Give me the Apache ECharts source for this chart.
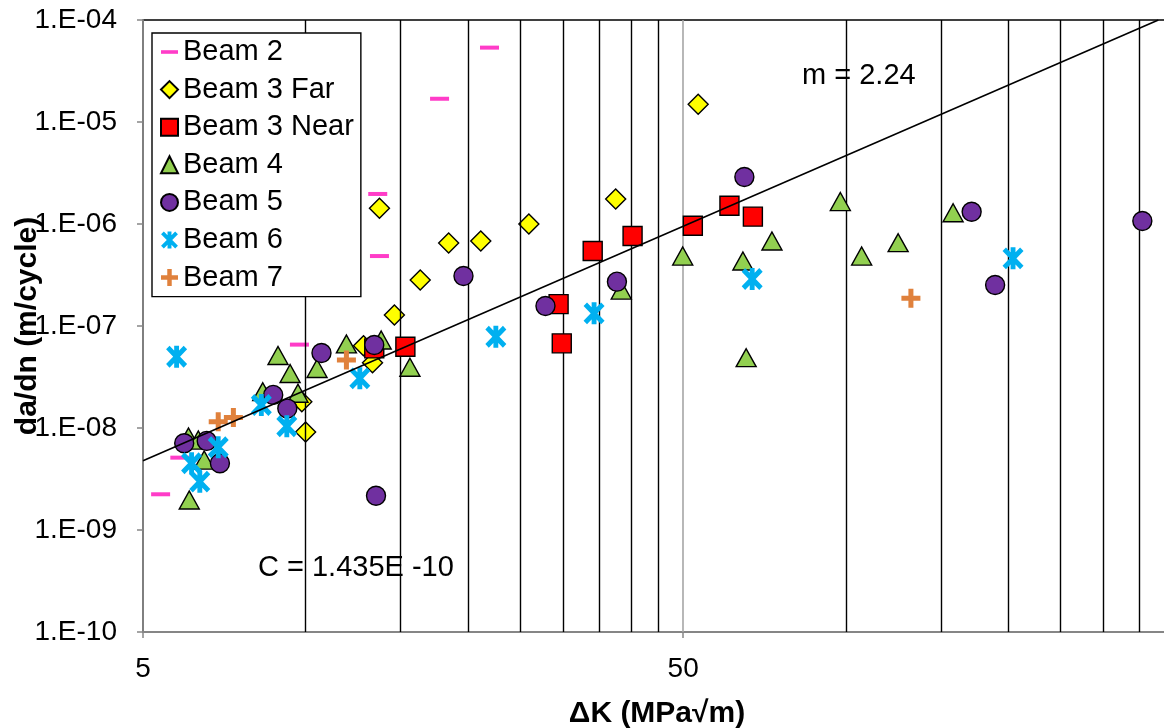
<!DOCTYPE html>
<html><head><meta charset="utf-8">
<script src="https://cdn.jsdelivr.net/npm/echarts@6/dist/echarts.min.js"></script>
<style>html,body{margin:0;padding:0;background:#fff}#c{width:1164px;height:728px}</style>
</head><body><div id="c"></div>
<script>
// ---- data (ΔK [MPa√m], da/dN [m/cycle]) ----
const seriesNames = ['Beam 2','Beam 3 Far','Beam 3 Near','Beam 4','Beam 5','Beam 6','Beam 7'];
const beam2 = [[5.39,2.24e-9],[5.85,5.12e-9],[9.74,6.57e-8],[13.7,4.85e-7],[13.6,1.97e-6],[17.7,1.69e-5],[21.9,5.36e-5]];
const beam3Far = [[9.84,1.81e-8],[10.0,9.14e-9],[12.8,6.41e-8],[13.3,4.37e-8],[14.6,1.28e-7],[13.7,1.43e-6],[16.3,2.82e-7],[18.4,6.52e-7],[21.1,6.81e-7],[25.9,1.0e-6],[37.5,1.76e-6],[53.3,1.49e-5]];
const beam3Near = [[13.4,6.04e-8],[15.3,6.26e-8],[29.4,1.64e-7],[29.8,6.76e-8],[34.0,5.43e-7],[40.3,7.62e-7],[52.1,9.62e-7],[60.9,1.51e-6],[67.3,1.18e-6]];
const beam4 = [[6.09,1.97e-9],[6.07,8.17e-9],[6.33,7.62e-9],[6.49,4.85e-9],[8.33,2.27e-8],[8.89,5.14e-8],[9.36,3.42e-8],[9.68,2.19e-8],[10.5,3.83e-8],[11.9,6.67e-8],[13.8,7.29e-8],[15.6,3.94e-8],[38.4,2.25e-7],[49.9,4.85e-7],[64.5,4.34e-7],[65.4,4.89e-8],[73.0,6.81e-7],[97.7,1.66e-6],[107,4.85e-7],[125,6.56e-7],[158,1.29e-6]];
const beam5 = [[5.96,7.08e-9],[6.56,7.47e-9],[6.94,4.51e-9],[8.71,2.11e-8],[9.25,1.55e-8],[10.7,5.43e-8],[13.4,6.52e-8],[13.5,2.17e-9],[19.6,3.09e-7],[27.8,1.57e-7],[37.7,2.72e-7],[64.9,2.89e-6],[171,1.32e-6],[189,2.52e-7],[354,1.07e-6]];
const beam6 = [[5.77,5.0e-8],[6.15,4.51e-9],[6.37,2.98e-9],[6.89,6.48e-9],[8.28,1.68e-8],[9.23,1.04e-8],[12.6,3.07e-8],[22.5,7.85e-8],[34.2,1.33e-7],[67.1,2.89e-7],[204,4.61e-7]];
const beam7 = [[6.89,1.15e-8],[7.35,1.27e-8],[11.9,4.65e-8],[132,1.87e-7]];
const trendLine = [[5,4.77e-9],[379,1e-4]];
const xTickLabels = [5, 50];
const xMin = 5, xMax = 400, yMin = 1e-10, yMax = 1e-4;
const gridLinesBlack = [10,15,20,25,30,35,40,45,100,150,200,250,300,350];
const gridLinesGray = [50];
const annoSlope = 'm = 2.24';
const annoC = 'C = 1.435E -10';

// ---- styling ----
const FONT = "'Liberation Sans', Arial, sans-serif";
const starPath = 'path://M7.7,0H12.3V20H7.7Z M3.33,0.07L19.93,16.67L16.67,19.93L0.07,3.33Z M19.93,3.33L3.33,19.93L0.07,16.67L16.67,0.07Z';
const plusPath = 'path://M7,0H12V7H19V12H12V19H7V12H0V7H7Z';
const dashPath = 'path://M0,7H17V10.6H0Z';

function fmtExp(v){
  const e = Math.round(Math.log10(v));
  return '1.E' + (e < 0 ? '-' : '+') + String(Math.abs(e)).padStart(2,'0');
}

const border = {borderColor:'#000', borderWidth:1.4, opacity:1};
const seriesDefs = [
  {name:seriesNames[0], data:beam2, symbol:'rect', symbolSize:[19,4], itemStyle:{color:'#FF3CC8', opacity:1}, icon:dashPath},
  {name:seriesNames[1], data:beam3Far, symbol:'diamond', symbolSize:20, itemStyle:Object.assign({color:'#FFFF00'},border), icon:'diamond'},
  {name:seriesNames[2], data:beam3Near, symbol:'rect', symbolSize:19, itemStyle:Object.assign({color:'#FF0000'},border), icon:'rect'},
  {name:seriesNames[3], data:beam4, symbol:'triangle', symbolSize:[20,18], itemStyle:Object.assign({color:'#92D050'},border), icon:'triangle'},
  {name:seriesNames[4], data:beam5, symbol:'circle', symbolSize:19, itemStyle:Object.assign({color:'#7030A0'},border), icon:'circle'},
  {name:seriesNames[5], data:beam6, symbol:starPath, symbolSize:[21,22], itemStyle:{color:'#00B0F0', opacity:1}, icon:starPath},
  {name:seriesNames[6], data:beam7, symbol:plusPath, symbolSize:19, itemStyle:{color:'#E0813C', opacity:1}, icon:plusPath}
];

const series = seriesDefs.map((d,i) => ({
  type:'scatter', name:d.name, data:d.data, symbol:d.symbol, symbolSize:d.symbolSize,
  itemStyle:d.itemStyle, z:3+i, emphasis:{disabled:true}
}));
series.unshift({
  type:'line', name:'grid', data:[], silent:true, z:1,
  markLine:{silent:true, symbol:'none', animation:false, label:{show:false},
    emphasis:{disabled:true},
    data: gridLinesBlack.map(v => ({xAxis:v, lineStyle:{color:'#000', width:1.4, type:'solid'}}))
      .concat(gridLinesGray.map(v => ({xAxis:v, lineStyle:{color:'#A6A6A6', width:1.6, type:'solid'}})))
  }
});
series.push({
  type:'line', name:'trend', data:trendLine, symbol:'none', silent:true, z:20,
  lineStyle:{color:'#000', width:1.6}
});

const chart = echarts.init(document.getElementById('c'), null, {renderer:'canvas'});
chart.setOption({
  animation:false,
  backgroundColor:'#fff',
  textStyle:{fontFamily:FONT},
  grid:{left:143, top:20, right:-7, bottom:96, show:true, borderColor:'#000', borderWidth:1.4,
        backgroundColor:'transparent', containLabel:false, outerBoundsMode:'none'},
  legend:{
    orient:'vertical', left:152, top:33, padding:[4,7,4,8], itemGap:7.6, itemWidth:17, itemHeight:17, itemTextGap:6,
    backgroundColor:'#fff', borderColor:'#000', borderWidth:1.4, z:30,
    textStyle:{fontSize:29, lineHeight:30, color:'#000', fontFamily:FONT},
    selectedMode:false,
    data: seriesDefs.map(d => ({name:d.name, icon:d.icon}))
  },
  xAxis:{
    type:'log', logBase:10, min:xMin, max:xMax,
    name:'ΔK (MPa√m)', nameLocation:'middle', nameGap:67, nameMoveOverlap:false,
    nameTextStyle:{fontSize:30, fontWeight:'bold', color:'#000', fontFamily:FONT},
    axisLine:{show:true, onZero:false, lineStyle:{color:'#868686', width:1.8}},
    axisTick:{show:true, length:6, customValues:xTickLabels, lineStyle:{color:'#868686', width:1.5}},
    axisLabel:{fontSize:28, color:'#000', margin:23, customValues:xTickLabels, fontFamily:FONT},
    splitLine:{show:false}, minorTick:{show:false}
  },
  yAxis:{
    type:'log', logBase:10, min:yMin, max:yMax, splitNumber:6,
    name:'da/dn (m/cycle)', nameLocation:'middle', nameGap:100, nameMoveOverlap:false,
    nameTextStyle:{fontSize:30, fontWeight:'bold', color:'#000', fontFamily:FONT},
    axisLine:{show:true, onZero:false, lineStyle:{color:'#868686', width:1.8}},
    axisTick:{show:true, length:6, lineStyle:{color:'#868686', width:1.5}},
    axisLabel:{fontSize:28, color:'#000', margin:26, formatter:fmtExp, fontFamily:FONT},
    splitLine:{show:false}
  },
  graphic:[
    {type:'text', x:802, y:76, z:40, style:{text:annoSlope, fill:'#000', font:'29px ' + FONT, align:'left', verticalAlign:'middle'}},
    {type:'text', x:258, y:568, z:40, style:{text:annoC, fill:'#000', font:'29px ' + FONT, align:'left', verticalAlign:'middle'}}
  ],
  series: series
});
</script>
</body></html>
